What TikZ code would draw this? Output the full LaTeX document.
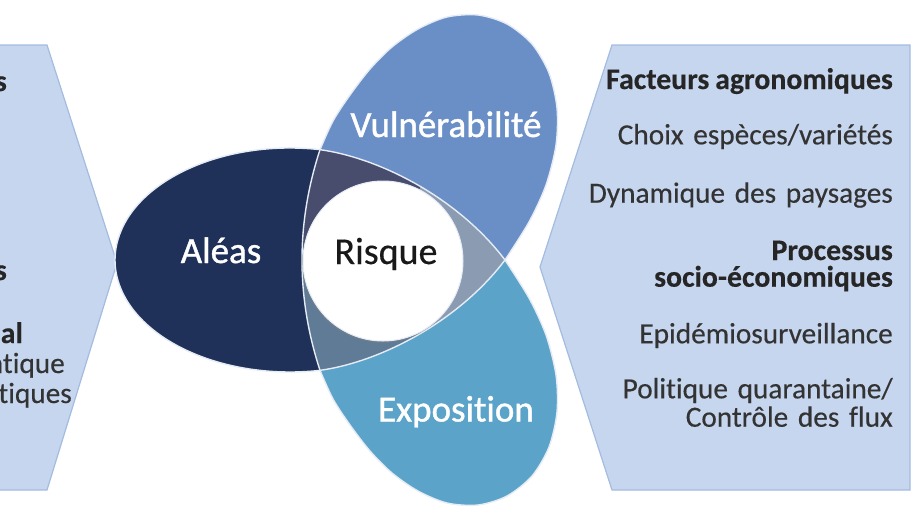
\documentclass[tikz,border=0pt]{standalone}
\usepackage{fontspec}
\setmainfont{Carlito}[Ligatures=NoCommon]
\newfontfamily\labelfont{Carlito}[Ligatures=NoCommon, FakeBold=1.1]
\newfontfamily\panelfont{Carlito}[Ligatures=NoCommon, FakeBold=0.35]
\newcommand\rpanelfont{\panelfont\fontsize{29.3}{28.4}\selectfont\spaceskip=0.33em plus 0.1em\relax}
\newcommand\bpanelfont{\panelfont\fontsize{29.8}{26.7}\selectfont\bfseries\spaceskip=0.2em\relax}
\usetikzlibrary{shadows}
\definecolor{aleasC}{HTML}{1F3158}
\definecolor{vulnC}{HTML}{6A8FC6}
\definecolor{expoC}{HTML}{5BA3C9}
\definecolor{ulC}{HTML}{484D6E}
\definecolor{llC}{HTML}{5F7B96}
\definecolor{rC}{HTML}{8A9BB2}
\definecolor{panelC}{HTML}{C6D6EF}
\definecolor{panelB}{HTML}{A3BCE0}
\definecolor{outlC}{HTML}{E6ECF5}
\definecolor{txtC}{HTML}{333333}
\tikzset{
  panel/.style={fill=panelC, draw=panelB, line width=1.2pt},
  outl/.style={draw=outlC, line width=1.4pt},
  lbl/.style={text=white, font=\labelfont\fontsize{37}{40}\selectfont, inner sep=0pt, anchor=base},
  rtxt/.style={text=txtC, font=\rpanelfont, inner sep=0pt, anchor=base east, align=right},
  btxt/.style={rtxt, font=\bpanelfont, text=black!85},
}
\begin{document}
\begin{tikzpicture}[x=1pt,y=1pt]
\useasboundingbox (0,0) rectangle (918,-517);
\clip (0,0) rectangle (918,-517);
\fill[white] (0,0) rectangle (918,-517);

% side panels
\path[panel] (-260,-45) -- (47,-45) -- (117,-263) -- (47,-490) -- (-260,-490) -- cycle;
\path[panel] (612,-45) -- (910,-45) -- (910,-490) -- (612,-490) -- (540,-267) -- cycle;

% key points
\coordinate (tl) at (320,-149.66);
\coordinate (bl) at (320,-370.34);
\coordinate (tip) at (505,-260);
\coordinate (c) at (383,-261);

% Vulnerabilite petal
\fill[vulnC] plot[smooth] coordinates {(320,-149.66) (333,-121) (350,-95) (370,-69) (392,-47) (418,-29) (447,-17) (478,-15) (507,-24) (532,-44) (549,-73) (557,-108) (556,-145) (546,-185) (529,-222) (505,-260)}
  .. controls (458,-198) and (380,-158) .. (tl) -- cycle;
% Exposition petal
\fill[expoC] plot[smooth] coordinates {(320,-370.34) (333,-399) (350,-425) (370,-451) (392,-473) (418,-491) (447,-503) (478,-505) (507,-496) (532,-476) (549,-447) (557,-412) (556,-375) (546,-335) (529,-298) (505,-260)}
  .. controls (458,-322) and (380,-362) .. (bl) -- cycle;
% Aleas
\fill[aleasC] (tl) arc[start angle=80.13, end angle=279.87, x radius=175, y radius=112]
  .. controls (296,-296.8) and (296,-223.2) .. (tl) -- cycle;

% central overlap
\begin{scope}
  \clip (tl) .. controls (380,-158) and (458,-198) .. (tip)
        .. controls (458,-322) and (380,-362) .. (bl)
        .. controls (296,-296.8) and (296,-223.2) .. (tl) -- cycle;
  \fill[ulC] (c) -- +(63:300) -- +(120:300) -- +(180:300) -- cycle;
  \fill[rC] (c) -- +(63:300) -- +(0:300) -- +(-63:300) -- cycle;
  \fill[llC] (c) -- +(180:300) -- +(240:300) -- +(297:300) -- cycle;
\end{scope}

% outlines
\path[outl] (tl) arc[start angle=80.13, end angle=279.87, x radius=175, y radius=112];
\path[outl] (bl) .. controls (296,-296.8) and (296,-223.2) .. (tl);
\path[outl] (tl) .. controls (380,-158) and (458,-198) .. (tip);
\path[outl] (tip) .. controls (458,-322) and (380,-362) .. (bl);
\path[outl] plot[smooth] coordinates {(320,-149.66) (333,-121) (350,-95) (370,-69) (392,-47) (418,-29) (447,-17) (478,-15) (507,-24) (532,-44) (549,-73) (557,-108) (556,-145) (546,-185) (529,-222) (505,-260)};
\path[outl] plot[smooth] coordinates {(320,-370.34) (333,-399) (350,-425) (370,-451) (392,-473) (418,-491) (447,-503) (478,-505) (507,-496) (532,-476) (549,-447) (557,-412) (556,-375) (546,-335) (529,-298) (505,-260)};

% Risque circle
\node[circle, minimum size=160pt, inner sep=0pt, fill=white, draw=outlC, line width=1pt,
      drop shadow={opacity=0.35, shadow xshift=-1pt, shadow yshift=-2pt}] (circ) at (c) {};

% labels
\node[lbl] (vul) at (446,-137) {Vulnérabilité};
\node[lbl] (ale) at (221,-263) {Aléas};
\node[lbl] (exp) at (456,-421.5) {Exposition};
\node[lbl, text=black!90, font=\panelfont\fontsize{38}{40}\selectfont] (ris) at (386,-264) {Risque};

% right panel texts (multi-line nodes: base = last line)
\node[btxt] (r1) at (893,-89) {Facteurs agronomiques};
\node[rtxt] (r2) at (893,-144.3) {Choix espèces/variétés};
\node[rtxt] (r3) at (893,-202.7) {Dynamique des paysages};
\node[btxt] (r4) at (893,-286.7) {Processus\\socio-économiques};
\node[rtxt] (r6) at (893,-343.3) {Epidémiosurveillance};
\node[rtxt] (r7) at (893,-426.7) {Politique quarantaine/\\Contrôle des flux};

% left panel fragments (cut by the picture edge)
\node[btxt] (l1) at (7,-91) {s};
\node[btxt] (l2) at (7,-280) {s};
\node[btxt] (l3) at (23,-343) {al};
\node[rtxt] (l4) at (65,-373) {atique};
\node[rtxt] (l5) at (72,-403) {tiques};
\end{tikzpicture}
\end{document}
